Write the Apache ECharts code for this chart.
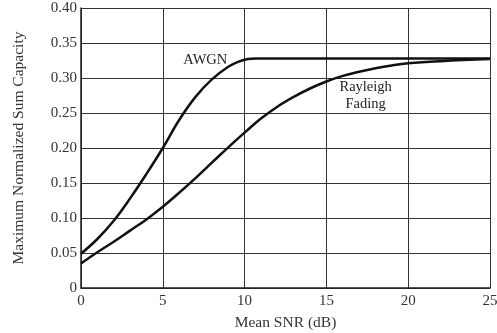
<!DOCTYPE html>
<html>
	<head>
		<meta charset="utf-8">
		<title>Sum Capacity</title>
	</head>
	<body style="margin:0;">
		<div id="container" style="width: 497px;height:333px;"></div>
	</body>
	<script src="https://cdn.jsdelivr.net/npm/echarts@6/dist/echarts.min.js"></script>
	<script type="text/javascript">
		'use strict'
		// 数据: 平均信噪比 (dB) 与归一化和容量
		var snrAwgn = [0, 1, 2, 3, 4, 5, 6, 7, 8, 9, 9.6, 10.2, 10.7, 12, 15, 20, 25];
		var awgn = [0.049, 0.07, 0.096, 0.128, 0.163, 0.200, 0.240, 0.273, 0.298, 0.316, 0.323, 0.327, 0.328, 0.328, 0.328, 0.328, 0.328];
		var snrRayleigh = [0, 1, 2, 3, 4, 5, 6, 7, 8, 9, 10, 11, 12, 13, 14, 15, 16, 17, 18, 19, 20, 22, 25];
		var rayleigh = [0.035, 0.051, 0.066, 0.082, 0.098, 0.116, 0.136, 0.157, 0.179, 0.201, 0.222, 0.242, 0.259, 0.273, 0.285, 0.295, 0.303, 0.309, 0.314, 0.318, 0.321, 0.324, 0.327];
		var xTicks = [0, 5, 10, 15, 20, 25];

		function pairs(xs, ys) {
			return xs.map(function (x, i) { return [x, ys[i]]; });
		}

		var myCharts = echarts.init(document.getElementById('container'));
		var fontFamily = 'Liberation Serif';
		var option = {
			animation: false,
			backgroundColor: '#fff',
			textStyle: { fontFamily: fontFamily },
			grid: { left: 81, right: 7, top: 8, bottom: 45, outerBoundsMode: 'none', containLabel: false },
			xAxis: {
				type: 'value',
				min: xTicks[0],
				max: xTicks[xTicks.length - 1],
				interval: 5,
				name: 'Mean SNR (dB)',
				nameLocation: 'middle',
				nameGap: 27,
				nameTextStyle: { color: '#333', fontSize: 15.5, fontFamily: fontFamily },
				axisLine: { lineStyle: { color: '#222', width: 1.5 } },
				axisTick: { show: false },
				axisLabel: { color: '#333', fontSize: 15, margin: 6, fontFamily: fontFamily },
				splitLine: { lineStyle: { color: '#333', width: 1 } }
			},
			yAxis: {
				type: 'value',
				min: 0,
				max: 0.4,
				interval: 0.05,
				name: 'Maximum Normalized Sum Capacity',
				nameLocation: 'middle',
				nameGap: 54,
				nameTextStyle: { color: '#333', fontSize: 15.5, fontFamily: fontFamily },
				axisLine: { show: true, lineStyle: { color: '#222', width: 1.5 } },
				axisTick: { show: false },
				axisLabel: {
					color: '#333', fontSize: 15, margin: 4, fontFamily: fontFamily,
					formatter: function (v) { return v === 0 ? '0' : v.toFixed(2); }
				},
				splitLine: { lineStyle: { color: '#333', width: 1 } }
			},
			series: [
				{
					type: 'line',
					name: 'AWGN',
					smooth: 0.4,
					symbol: 'none',
					lineStyle: { color: '#111', width: 2.5 },
					data: pairs(snrAwgn, awgn),
					markPoint: {
						symbol: 'circle', symbolSize: 0,
						label: { show: true, formatter: 'AWGN', color: '#222', fontSize: 14.5, fontFamily: fontFamily },
						data: [{ coord: [7.6, 0.325] }]
					}
				},
				{
					type: 'line',
					name: 'Rayleigh Fading',
					smooth: 0.4,
					symbol: 'none',
					lineStyle: { color: '#111', width: 2.5 },
					data: pairs(snrRayleigh, rayleigh),
					markPoint: {
						symbol: 'circle', symbolSize: 0,
						label: { show: true, formatter: 'Rayleigh\nFading', color: '#222', fontSize: 14.5, lineHeight: 17, fontFamily: fontFamily },
						data: [{ coord: [17.4, 0.275] }]
					}
				}
			]
		};
		myCharts.setOption(option);
	</script>
</html>
